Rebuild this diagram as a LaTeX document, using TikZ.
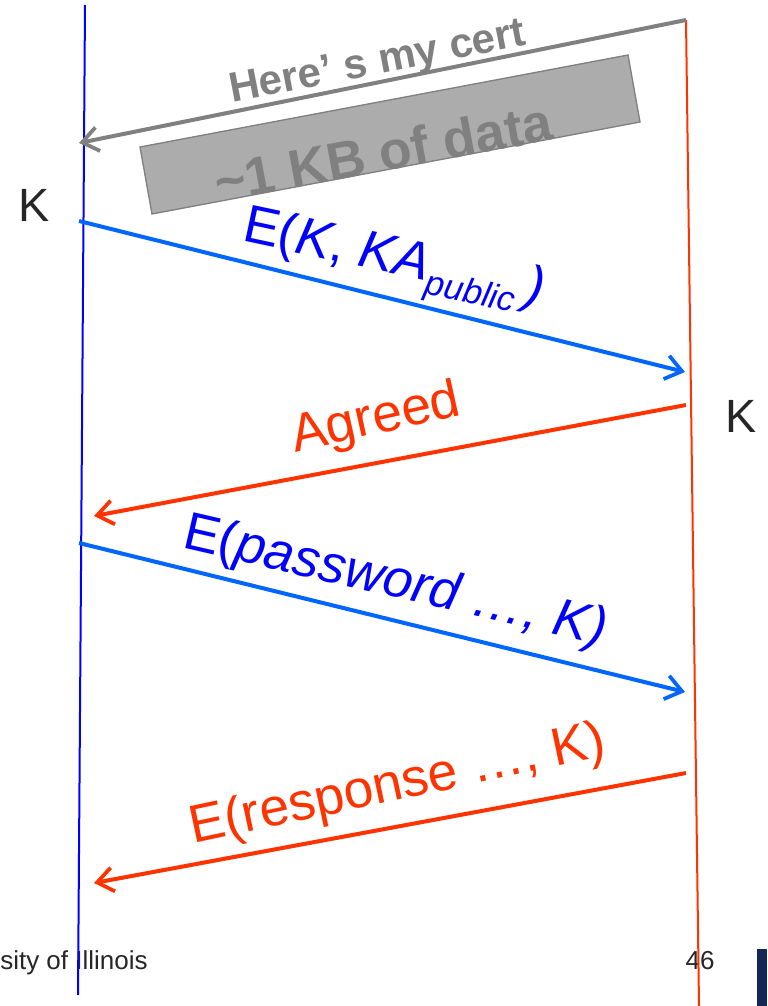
\documentclass[tikz,border=0pt]{standalone}
\usepackage{fontspec}
\setmainfont{Liberation Sans}
\usetikzlibrary{arrows.meta}
\definecolor{myblue}{RGB}{0,0,255}
\definecolor{arrowblue}{RGB}{0,102,255}
\definecolor{myorange}{RGB}{255,51,0}
\definecolor{mygrey}{RGB}{128,128,128}
\definecolor{boxgrey}{RGB}{172,172,172}
\definecolor{darktxt}{RGB}{38,38,38}
\definecolor{navy}{RGB}{20,40,85}
\tikzset{
  msg/.style={line width=3pt,-{Straight Barb[length=12pt,width=18pt,line width=2.8pt]}},
  lbl/.style={inner sep=0pt,font=\fontsize{40}{44}\selectfont},
  keylbl/.style={inner sep=0pt,text=darktxt,font=\fontsize{35}{40}\selectfont},
  foot/.style={inner sep=0pt,text=darktxt,font=\fontsize{19.5}{22}\selectfont}
}
\begin{document}
\begin{tikzpicture}[x=0.75pt,y=-0.75pt]
\useasboundingbox (0,0) rectangle (767,1006);
\coordinate (aTop) at (85,5);
\coordinate (aBot) at (78,995);
\coordinate (bTop) at (686,20);
\coordinate (bBot) at (699,1006);
\coordinate (certS) at (686,20);
\coordinate (certE) at (79,143);
\coordinate (m1S) at (79,221);
\coordinate (m1E) at (685,372);
\coordinate (m2S) at (686,405);
\coordinate (m2E) at (94,516);
\coordinate (m3S) at (79,543);
\coordinate (m3E) at (685,692);
\coordinate (m4S) at (686,773);
\coordinate (m4E) at (94,883);
\draw[draw=mygrey,fill=boxgrey,line width=1pt] (140,147) -- (628,55) -- (640,122) -- (152,214) -- cycle;
\node[inner sep=0pt,text=mygrey,rotate=10.5,font=\fontsize{40}{44}\selectfont\bfseries] (data) at (383,152) {\textasciitilde 1 KB of data};
\node[foot,anchor=base west] (uni) at (0,969) {sity of Illinois};
\node[foot,anchor=base] (num) at (700,969) {46};
\fill[navy] (757,949) rectangle (767,1006);
\draw[myblue,line width=1.5pt] (aTop) -- (aBot);
\draw[myorange,line width=1.5pt] (bTop) -- (bBot);
\draw[msg,mygrey] (certS) -- (certE);
\draw[msg,arrowblue] (m1S) -- (m1E);
\draw[msg,myorange] (m2S) -- (m2E);
\draw[msg,arrowblue] (m3S) -- (m3E);
\draw[msg,myorange] (m4S) -- (m4E);
\node[inner sep=0pt,text=mygrey,rotate=11,font=\fontsize{31.5}{36}\selectfont\bfseries] (cert) at (378,64) {Here’ s my cert};
\node[keylbl] (k1) at (34,205) {K};
\node[keylbl] (k2) at (741,416) {K};
\node[lbl,text=myblue,rotate=-12] (l1) at (393,264) {E(\textit{K}, \textit{KA}\raisebox{-0.25em}{\fontsize{26}{28}\selectfont\textit{public}}\,\textit{)}};
\node[lbl,text=myorange,rotate=12.5] (l2) at (376,420) {Agreed};
\node[lbl,text=myblue,rotate=-13] (l3) at (395,583) {E(\textit{password …, K)}};
\node[lbl,text=myorange,rotate=12] (l4) at (398,786) {E(response …, K)};
\end{tikzpicture}
\end{document}
